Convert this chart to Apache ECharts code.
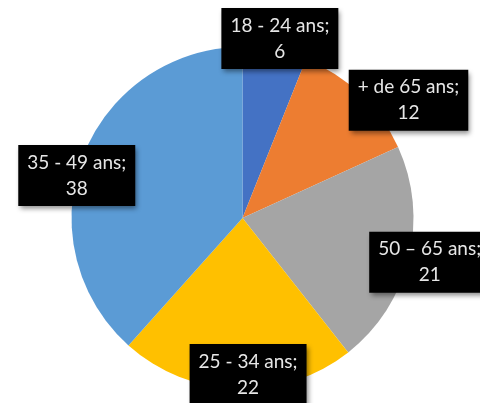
<!DOCTYPE html>
<html>
<head>
<meta charset="utf-8">
<script src="https://cdn.jsdelivr.net/npm/echarts@6/dist/echarts.min.js"></script>
<style>html,body{margin:0;padding:0;background:#fff}#c{width:480px;height:403px}</style>
</head>
<body>
<div id="c"></div>
<script>
const categories = ['18 - 24 ans', '+ de 65 ans', '50 – 65 ans', '25 - 34 ans', '35 - 49 ans'];
const values = [6, 12, 21, 22, 38];
const colors = ['#4472C4', '#ED7D31', '#A5A5A5', '#FFC000', '#5B9BD5'];
// label callout offsets from slice edge midpoint (px)
const labelOffsets = [[5, -11.5], [48, 6], [21, 4], [11, -14.5], [-6, 18.5]];

const CX = 242.5, CY = 218, R = 171;
const total = values.reduce((a, b) => a + b, 0);

const chart = echarts.init(document.getElementById('c'), null, {renderer: 'canvas'});
chart.setOption({
  animation: false,
  series: [{
    type: 'pie',
    center: [CX, CY],
    radius: R,
    startAngle: 90,
    clockwise: true,
    emphasis: {disabled: true},
    data: categories.map((n, i) => ({name: n, value: values[i], itemStyle: {color: colors[i]}})),
    label: {
      show: true,
      position: 'inside',
      formatter: '{b};\n{c}',
      fontFamily: 'Lato',
      fontSize: 19,
      lineHeight: 26,
      color: '#e6e6e6',
      align: 'center',
      backgroundColor: '#000',
      padding: [5, 9, 4, 9],
      shadowColor: 'rgba(0,0,0,0.45)',
      shadowBlur: 5,
      shadowOffsetX: 2,
      shadowOffsetY: 3
    },
    labelLine: {show: false},
    labelLayout: function (p) {
      const i = p.dataIndex;
      let cum = 0;
      for (let k = 0; k < i; k++) cum += values[k];
      const mid = (cum + values[i] / 2) / total * Math.PI * 2;
      const x = CX + R * Math.sin(mid) + labelOffsets[i][0];
      const y = CY - R * Math.cos(mid) + labelOffsets[i][1];
      return {x: x, y: y, align: 'center', verticalAlign: 'middle'};
    }
  }]
});
</script>
</body>
</html>
